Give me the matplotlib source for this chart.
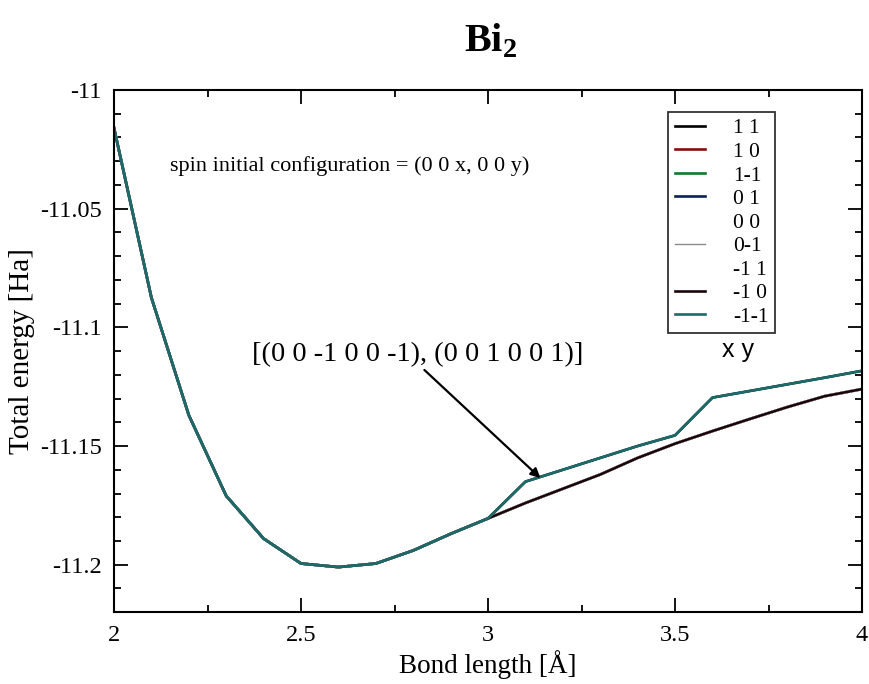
import matplotlib
matplotlib.use('Agg')
from matplotlib import pyplot as plt
from matplotlib.ticker import MultipleLocator, FormatStrFormatter
import numpy as np

plt.rcParams['font.family'] = ['Liberation Serif', 'DejaVu Serif']
plt.rcParams['mathtext.fontset'] = 'custom'
plt.rcParams['mathtext.rm'] = 'Liberation Serif'
plt.rcParams['mathtext.bf'] = 'Liberation Serif:bold'

# bond lengths
bond = [2.0, 2.1, 2.2, 2.3, 2.4, 2.5, 2.6, 2.7, 2.8, 2.9, 3.0,
        3.1, 3.2, 3.3, 3.4, 3.5, 3.6, 3.7, 3.8, 3.9, 4.0]

# common part up to 3.0 A
common = [-11.016, -11.0875, -11.137, -11.171, -11.189, -11.1995, -11.201,
          -11.1995, -11.194, -11.187, -11.1805]
# lower branch after 3.0 A
lower_tail = [-11.174, -11.168, -11.162, -11.155, -11.149,
              -11.1437, -11.1386, -11.1336, -11.129, -11.126]
# upper branch after 3.0 A : (0 0 -1 0 0 -1), (0 0 1 0 0 1)
upper_tail = [-11.165, -11.160, -11.155, -11.150, -11.1455,
              -11.1296, -11.1268, -11.1240, -11.1212, -11.1183]

energy_lower = common + lower_tail
energy_upper = common + upper_tail

labels = ['1 1', '1 0', '1-1', '0 1', '0 0', '0-1', '-1 1', '-1 0', '-1-1']
colors = ['black', '#8b0a0a', '#0f7a2a', '#0b1f5e', 'white', '#8a8a8a',
          'white', '#1a0508', '#1b6b6b']
branch = ['upper', 'lower', 'lower', 'lower', 'lower', 'lower', 'lower',
          'lower', 'upper']

fig = plt.figure(figsize=(8.69, 6.84), dpi=100)
ax = fig.add_axes([0.1312, 0.105, 0.8608, 0.7634])

for lab, col, br in zip(labels, colors, branch):
    y = energy_upper if br == 'upper' else energy_lower
    lw = 1.0 if lab == '0-1' else 1.9
    ax.plot(bond, y, color=col, lw=lw, label=lab)

ax.set_xlim(2, 4)
ax.set_ylim(-11.22, -11.0)
ax.xaxis.set_major_locator(MultipleLocator(0.5))
ax.xaxis.set_minor_locator(MultipleLocator(0.25))
ax.yaxis.set_major_locator(MultipleLocator(0.05))
ax.yaxis.set_minor_locator(MultipleLocator(0.01))
ax.xaxis.set_major_formatter(FormatStrFormatter('%g'))
ax.yaxis.set_major_formatter(FormatStrFormatter('%g'))
ax.tick_params(which='both', direction='in', top=True, right=True,
               labelsize=17.5, width=1.3)
ax.tick_params(which='major', length=10, pad=9)
ax.tick_params(which='minor', length=5)
for s in ax.spines.values():
    s.set_linewidth(1.5)

ax.set_xlabel('Bond length [Å]', fontsize=19.5, labelpad=3)
ax.set_ylabel('Total energy [Ha]', fontsize=21, labelpad=3)
fig.text(0.565, 0.94, r'$\mathbf{Bi}_{\mathbf{2}}$', fontsize=29,
         ha='center', va='center')

ax.text(2.15, -11.032, 'spin initial configuration = (0 0 x, 0 0 y)',
        fontsize=16, va='center', ha='left')
ax.text(3.668, -11.1095, 'x y', fontsize=18, va='center', ha='center',
        family=['Liberation Sans', 'DejaVu Sans'])

ax.annotate('[(0 0 -1 0 0 -1), (0 0 1 0 0 1)]', xy=(3.14, -11.1635),
            xytext=(2.37, -11.1115), fontsize=20.5, va='center', ha='left',
            arrowprops=dict(arrowstyle='-|>', color='black', lw=1.6,
                            mutation_scale=14, shrinkA=0, shrinkB=0,
                            relpos=(0.51, 0.0)))

leg = ax.legend(loc='upper left', bbox_to_anchor=(0.741, 0.958), fontsize=15.5,
                frameon=True, fancybox=False, edgecolor='black',
                handlelength=1.4, handletextpad=1.3, labelspacing=0.16,
                borderpad=0.3, borderaxespad=0)
leg.get_frame().set_linewidth(1.3)
for t in leg.get_texts():
    t.set_ha('right')
leg._legend_box.align = 'right'

plt.savefig('out.png', dpi=100)
